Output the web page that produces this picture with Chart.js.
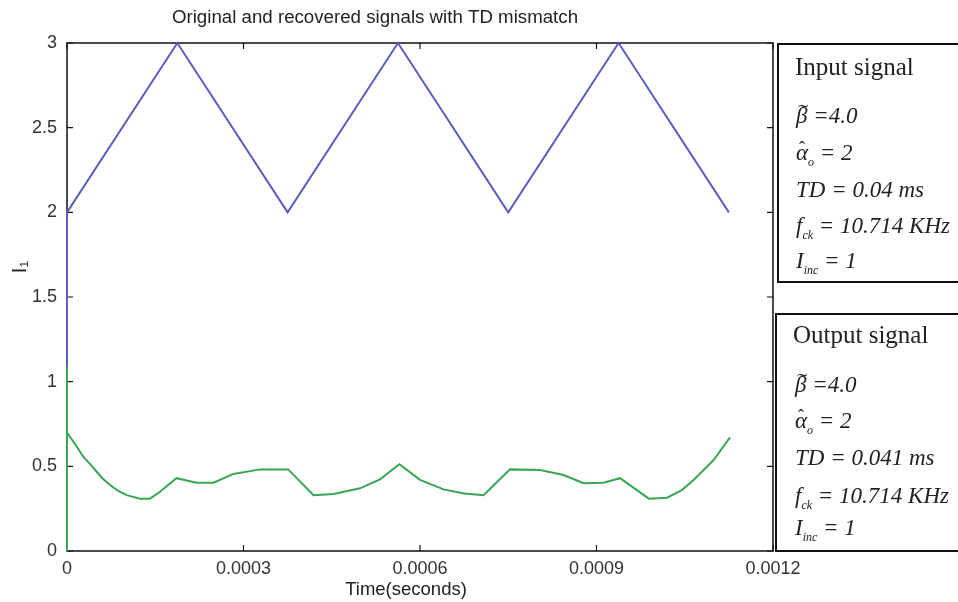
<!DOCTYPE html>
<html>
<head>
<meta charset="utf-8">
<script src="https://cdn.jsdelivr.net/npm/chart.js@4.4.1/dist/chart.umd.min.js"></script>
<style>
  html, body { margin: 0; padding: 0; background: #fff; overflow: hidden; }
  #wrap { position: relative; width: 958px; height: 602px; overflow: hidden; }
  canvas { position: absolute; left: 0; top: 0; }
  .box { position: absolute; border: 2px solid #111; box-sizing: border-box; width: 200px; background: transparent; }
  .t { position: absolute; white-space: nowrap; font-family: "Liberation Serif", "DejaVu Serif", serif; color: #222; line-height: 1; }
  .head { font-size: 25px; }
  .m { font-size: 23px; font-style: italic; }
  .m sub { font-size: 12px; vertical-align: baseline; position: relative; top: 6px; }
  .acc { position: relative; display: inline-block; }
  .acc .tl { position: absolute; left: 2px; top: -3px; font-style: normal; font-size: 22px; transform: scaleX(1.4); transform-origin: left top; }
  .acc .ht { position: absolute; left: 3px; top: -2px; font-style: normal; font-size: 18px; }
</style>
</head>
<body>
<div id="wrap">
  <canvas id="c" width="958" height="602"></canvas>
  <div class="box" style="left:777px; top:43px; height:240px;"></div>
  <div class="box" style="left:775px; top:313px; height:239px;"></div>
  <span class="t head" style="left:795px; top:54px;">Input signal</span>
  <span class="t m" style="left:796px; top:104px;"><span class="acc">β<span class="tl">˜</span></span> =4.0</span>
  <span class="t m" style="left:796px; top:141px;"><span class="acc">α<span class="ht">ˆ</span></span><sub>o</sub> = 2</span>
  <span class="t m" style="left:796px; top:178px;">TD = 0.04 ms</span>
  <span class="t m" style="left:796px; top:214px;">f<sub>ck</sub> = 10.714 KHz</span>
  <span class="t m" style="left:796px; top:249px;">I<sub>inc</sub> = 1</span>
  <span class="t head" style="left:793px; top:322px;">Output signal</span>
  <span class="t m" style="left:795px; top:373px;"><span class="acc">β<span class="tl">˜</span></span> =4.0</span>
  <span class="t m" style="left:795px; top:409px;"><span class="acc">α<span class="ht">ˆ</span></span><sub>o</sub> = 2</span>
  <span class="t m" style="left:795px; top:446px;">TD = 0.041 ms</span>
  <span class="t m" style="left:795px; top:484px;">f<sub>ck</sub> = 10.714 KHz</span>
  <span class="t m" style="left:795px; top:516px;">I<sub>inc</sub> = 1</span>
</div>
<script>
// ---- data ----
const chartTitle = "Original and recovered signals with TD mismatch";
const xAxisTitle = "Time(seconds)";
const yAxisTitle = "I\u2081";
const xTicks = [0, 0.0003, 0.0006, 0.0009, 0.0012];
const yTicks = [0, 0.5, 1, 1.5, 2, 2.5, 3];

const inputTime   = [0, 0, 0.0001875, 0.000375, 0.0005625, 0.00075, 0.0009375, 0.001125];
const inputValues = [0, 2, 3,         2,        3,         2,       3,         2];

const outputTime = [0, 0, 0, 0.000014, 0.0000277, 0.00004, 0.0000505, 0.00006, 0.0000731, 0.000087,
  0.0001015, 0.000124, 0.000141, 0.000158, 0.000186, 0.00022, 0.000249, 0.000283, 0.000328, 0.000376,
  0.000419, 0.000453, 0.000498, 0.000532, 0.000565, 0.000585, 0.0006, 0.00064, 0.000675, 0.000708,
  0.000753, 0.000804, 0.000844, 0.000878, 0.000912, 0.00094, 0.000989, 0.00102, 0.001045, 0.001065,
  0.001099, 0.001127];
const outputValues = [0, 1.09, 0.70, 0.63, 0.557, 0.51, 0.468, 0.43, 0.39, 0.355,
  0.33, 0.309, 0.309, 0.35, 0.43, 0.403, 0.403, 0.455, 0.482, 0.482,
  0.329, 0.337, 0.37, 0.423, 0.512, 0.46, 0.42, 0.364, 0.34, 0.329,
  0.482, 0.478, 0.449, 0.40, 0.403, 0.43, 0.309, 0.315, 0.36, 0.419,
  0.537, 0.671];

const toXY = (xs, ys) => xs.map((x, i) => ({ x: x, y: ys[i] }));

const fmtX = v => (Math.abs(v) < 1e-12 ? "0" : v.toFixed(4));

const SANS = 'Liberation Sans, Arial, sans-serif';

// MATLAB-style axes box with inward ticks (drawn beneath the data)
const boxTicks = {
  id: 'boxTicks',
  beforeDatasetsDraw(chart) {
    const { ctx, chartArea: a, scales } = chart;
    const L = 6;
    ctx.save();
    ctx.strokeStyle = '#111';
    ctx.lineWidth = 1.5;
    ctx.strokeRect(a.left, a.top, a.right - a.left, a.bottom - a.top);
    ctx.lineWidth = 1.2;
    ctx.beginPath();
    scales.x.ticks.forEach(t => {
      const px = scales.x.getPixelForValue(t.value);
      ctx.moveTo(px, a.bottom); ctx.lineTo(px, a.bottom - L);
      ctx.moveTo(px, a.top); ctx.lineTo(px, a.top + L);
    });
    scales.y.ticks.forEach(t => {
      const py = scales.y.getPixelForValue(t.value);
      ctx.moveTo(a.left, py); ctx.lineTo(a.left + L, py);
      ctx.moveTo(a.right, py); ctx.lineTo(a.right - L, py);
    });
    ctx.stroke();
    ctx.restore();
  }
};

// titles placed as in the reference (slightly off-centre, MATLAB export)
const titles = {
  id: 'titles',
  afterDraw(chart) {
    const { ctx } = chart;
    ctx.save();
    ctx.fillStyle = '#222';
    ctx.textAlign = 'center';
    ctx.textBaseline = 'middle';
    ctx.font = '18.7px ' + SANS;
    ctx.fillText(chartTitle, 375, 18);
    ctx.font = '18.5px ' + SANS;
    ctx.fillText(xAxisTitle, 406, 590);
    ctx.translate(26, 267);
    ctx.rotate(-Math.PI / 2);
    ctx.textBaseline = 'alphabetic';
    ctx.font = '20px ' + SANS;
    ctx.fillText(yAxisTitle, 0, 0);
    ctx.restore();
  }
};

new Chart(document.getElementById('c'), {
  type: 'scatter',
  data: {
    datasets: [
      { label: 'Input signal', data: toXY(inputTime, inputValues), showLine: true, clip: 4, order: 2,
        borderColor: '#5a60b8', borderWidth: 2, pointRadius: 0, tension: 0, fill: false },
      { label: 'Output signal', data: toXY(outputTime, outputValues), showLine: true, clip: 4, order: 1,
        borderColor: '#3aa653', borderWidth: 2, pointRadius: 0, tension: 0, fill: false }
    ]
  },
  options: {
    responsive: false,
    animation: false,
    devicePixelRatio: 1,
    layout: { padding: { left: 0, right: 185, top: 43, bottom: 0 } },
    plugins: {
      legend: { display: false },
      tooltip: { enabled: false },
      title: { display: false }
    },
    scales: {
      x: {
        type: 'linear', min: 0, max: 0.0012,
        afterBuildTicks: s => { s.ticks = xTicks.map(v => ({ value: v })); },
        afterFit: s => { s.height = 51; },
        grid: { display: false, drawTicks: false },
        border: { display: false },
        ticks: { color: '#333', padding: 7, maxRotation: 0, autoSkip: false,
          font: { family: SANS, size: 18 },
          callback: v => fmtX(v) },
        title: { display: false }
      },
      y: {
        type: 'linear', min: 0, max: 3,
        afterBuildTicks: s => { s.ticks = yTicks.map(v => ({ value: v })); },
        afterFit: s => { s.width = 67; },
        grid: { display: false, drawTicks: false },
        border: { display: false },
        ticks: { color: '#333', padding: 10, autoSkip: false,
          font: { family: SANS, size: 18 },
          callback: v => String(v) },
        title: { display: false }
      }
    }
  },
  plugins: [boxTicks, titles]
});
</script>
</body>
</html>
